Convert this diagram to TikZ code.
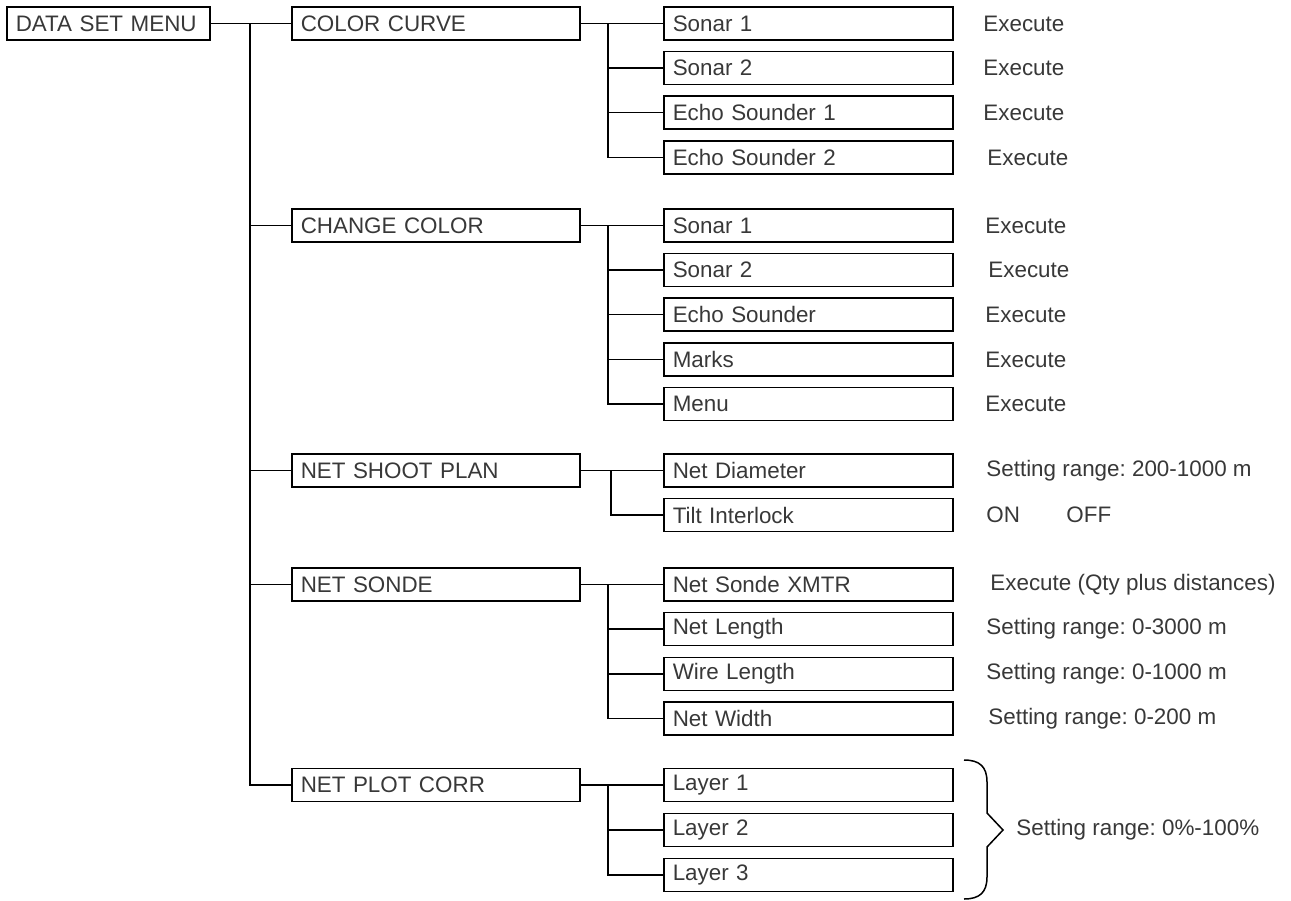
\documentclass[tikz,border=0pt]{standalone}
\usepackage{fontspec}
\setmainfont{Liberation Sans}
\frenchspacing
\usetikzlibrary{positioning}

\begin{document}
\begin{tikzpicture}[x=0.5pt,y=-0.5pt,
    every node/.style={text=black!78, font=\fontsize{11.2}{13}\selectfont},
    menubox/.style={draw=black, line width=0.75pt, anchor=west, minimum height=16.5pt,
                    inner xsep=4.5pt, inner ysep=0pt, align=left},
    topbox/.style={menubox, text width=92.5pt},
    mainbox/.style={menubox, text width=135pt},
    subbox/.style={menubox, text width=135.5pt},
    note/.style={anchor=west, inner sep=0pt},
    link/.style={draw=black, line width=0.75pt}]
    \useasboundingbox (0,0) rectangle (1291,900);
    % root and first level
    \node[topbox] (dsm) at (6,23.5) {DATA SET MENU};
    \node[mainbox] (curve) at (291,23.5) {COLOR CURVE};
    \node[mainbox] (chcol) at (291,225.5) {CHANGE COLOR};
    \node[mainbox] (shoot) at (291,470.5) {NET SHOOT PLAN};
    \node[mainbox] (sonde) at (291,584.5) {NET SONDE};
    \node[mainbox] (plot) at (291,785) {NET PLOT CORR};
    % main trunk
    \coordinate (trunk) at (250,23.5);
    \draw[link] (dsm.east) -- (curve.west);
    \draw[link] (trunk) |- (plot.west);
    \foreach \n in {chcol,shoot,sonde} \draw[link] (trunk |- \n.west) -- (\n.west);

    % COLOR CURVE branch
    \foreach \i/\y/\txt/\nx in {1/23.5/Sonar 1/983, 2/68/Sonar 2/983,
        3/112.5/Echo Sounder 1/983, 4/157.5/Echo Sounder 2/987} {
        \node[subbox] (curve\i) at (663,\y) {\txt};
        \node[note] (curvenote\i) at (\nx,\y) {Execute};
    }
    \coordinate (curvebus) at (608,23.5);
    \draw[link] (curve.east) -- (curve1.west);
    \draw[link] (curvebus) |- (curve4.west);
    \foreach \i in {2,3} \draw[link] (curvebus |- curve\i.west) -- (curve\i.west);

    % CHANGE COLOR branch
    \foreach \i/\y/\txt/\nx in {1/225.5/Sonar 1/985, 2/270/Sonar 2/988,
        3/314.5/Echo Sounder/985, 4/359.5/Marks/985, 5/404/Menu/985} {
        \node[subbox] (chcol\i) at (663,\y) {\txt};
        \node[note] (chcolnote\i) at (\nx,\y) {Execute};
    }
    \coordinate (chcolbus) at (608,225.5);
    \draw[link] (chcol.east) -- (chcol1.west);
    \draw[link] (chcolbus) |- (chcol5.west);
    \foreach \i in {2,3,4} \draw[link] (chcolbus |- chcol\i.west) -- (chcol\i.west);

    % NET SHOOT PLAN branch
    \node[subbox] (shoot1) at (663,470.5) {Net Diameter};
    \node[subbox] (shoot2) at (663,515) {Tilt Interlock};
    \node[note] (shootnote1) at (986,470.5) {Setting range: 200-1000 m};
    \node[note] (shooton) at (986,515) {ON};
    \node[note] (shootoff) at (1066,515) {OFF};
    \coordinate (shootbus) at (611,470.5);
    \draw[link] (shoot.east) -- (shoot1.west);
    \draw[link] (shootbus) |- (shoot2.west);

    % NET SONDE branch
    \foreach \i/\y/\txt/\nx/\val in {1/584.5/Net Sonde XMTR/990/Execute (Qty plus distances),
        2/629/Net Length/986/Setting range: 0-3000 m, 3/674/Wire Length/986/Setting range: 0-1000 m,
        4/718.5/Net Width/988/Setting range: 0-200 m} {
        \node[subbox] (sonde\i) at (663,\y) {\txt};
        \node[note] (sondenote\i) at (\nx,\y) {\val};
    }
    \coordinate (sondebus) at (608,584.5);
    \draw[link] (sonde.east) -- (sonde1.west);
    \draw[link] (sondebus) |- (sonde4.west);
    \foreach \i in {2,3} \draw[link] (sondebus |- sonde\i.west) -- (sonde\i.west);

    % NET PLOT CORR branch
    \foreach \i/\y in {1/785,2/830,3/875} \node[subbox] (plot\i) at (663,\y) {Layer \i};
    \coordinate (plotbus) at (608,785);
    \draw[link] (plot.east) -- (plot1.west);
    \draw[link] (plotbus) |- (plot3.west);
    \draw[link] (plotbus |- plot2.west) -- (plot2.west);
    % brace over the layers
    \draw[link] (964,760) .. controls (980,760) and (987,767) .. (987,782) -- (987,813)
        -- (1003,830) -- (987,847) -- (987,877) .. controls (987,892) and (980,899) .. (964,899);
    \node[note] (plotnote) at (1016,830) {Setting range: 0\%-100\%};
\end{tikzpicture}
\end{document}
